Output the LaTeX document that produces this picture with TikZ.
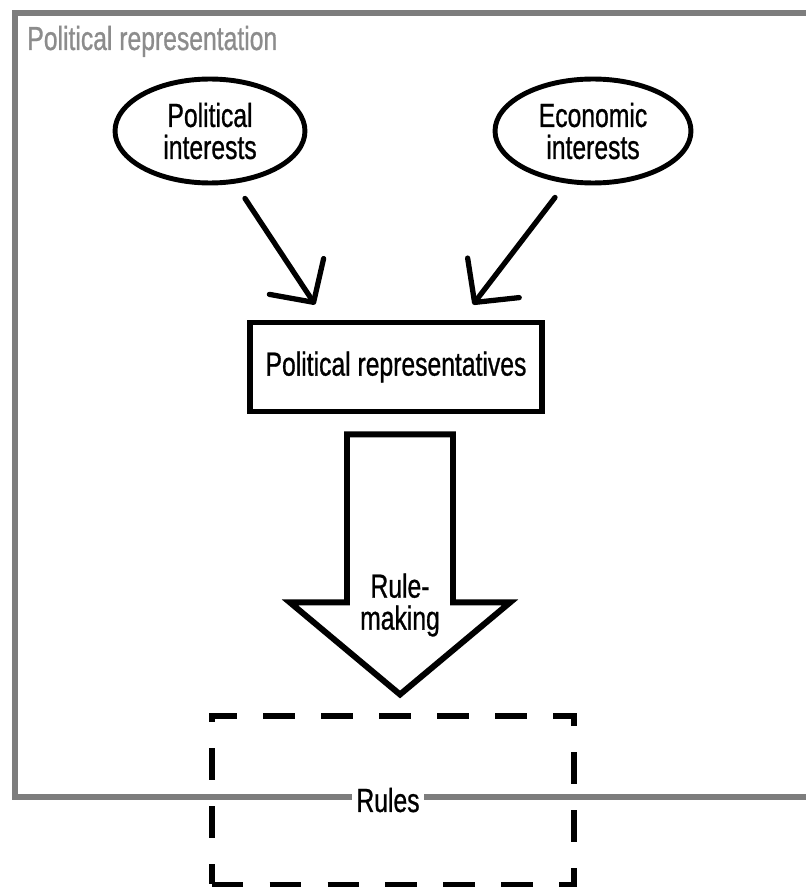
\documentclass[tikz,border=0pt]{standalone}
\usepackage{fontspec}
\setmainfont{Liberation Sans}[FakeStretch=0.74,FakeBold=0.8]
\usetikzlibrary{shapes.geometric, arrows.meta}
\definecolor{framegray}{RGB}{125,125,125}
\definecolor{titlegray}{RGB}{140,140,140}

\begin{document}
\begin{tikzpicture}[x=0.02cm,y=-0.02cm,font=\fontsize{19pt}{18.2pt}\selectfont,
    interest/.style={ellipse,draw,line width=2.8pt,minimum width=3.8cm,minimum height=2.08cm,align=center,inner sep=0pt},
    body/.style={rectangle,draw,line width=3.4pt,minimum width=5.84cm,minimum height=1.78cm},
    ruleset/.style={rectangle,draw,line width=3.4pt,dash pattern=on 18pt off 15pt,minimum width=7.26cm,minimum height=3.38cm},
    pointer/.style={line width=3pt,line cap=round,-{Straight Barb[length=0.62cm,width=1.3cm,line cap=round,line join=round]}},
    fatarrow/.style={draw,line width=3.4pt},
    frame/.style={draw=framegray,line width=3.4pt}]
                    \useasboundingbox (0,0) rectangle (805,888);
                    % outer frame
                    \draw[frame] (15,13) rectangle (840,797);
                    \node[anchor=base west,text=titlegray,inner sep=0pt] (title) at (27,50) {Political representation};
                    \node[interest] (polint) at (210,131) {Political\\interests};
                    \node[interest,minimum width=3.92cm] (ecoint) at (593,131) {Economic\\interests};
                    \node[body] (rep) at (396,367) {Political representatives};
                    \node[ruleset,label={[fill=white,inner xsep=2.5pt,inner ysep=1pt,xshift=-0.1cm]center:Rules}] (rules) at (393,800) {};
                    \draw[pointer] ([shift={(35,13)}]polint.south) -- ([shift={(68,-15)}]rep.north west);
                    \draw[pointer] ([shift={(-38,12)}]ecoint.south) -- ([shift={(-72,-15)}]rep.north east);
                    % rule-making arrow
                    \draw[fatarrow] (rep.south) ++(-49,20) -- ++(0,168) -- ++(-57,0) -- ++(110,92)
                        -- ++(110,-92) -- ++(-57,0) -- ++(0,-168) -- cycle;
                    \node[align=center] (making) at (400,605) {Rule-\\making};
                \end{tikzpicture}
\end{document}
